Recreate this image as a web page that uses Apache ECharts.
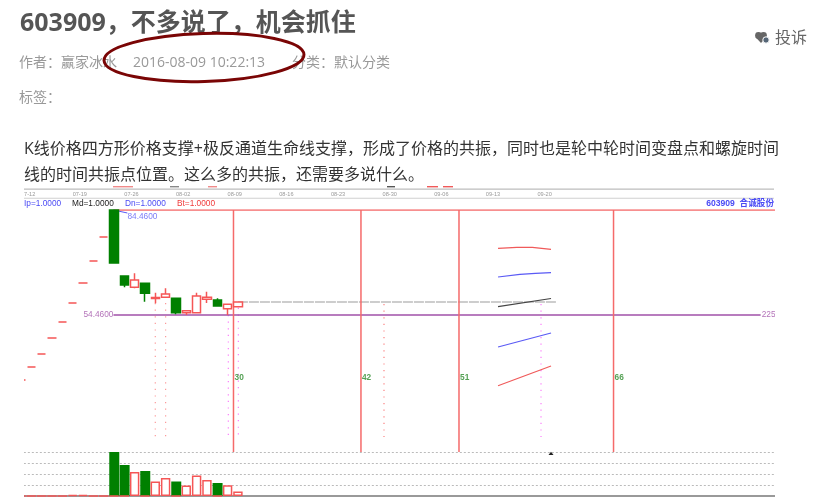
<!DOCTYPE html>
<html><head><meta charset="utf-8">
<style>html,body{margin:0;padding:0;background:#fff}#c{width:815px;height:501px}</style>
<script src="https://cdn.jsdelivr.net/npm/echarts@6/dist/echarts.min.js"></script>
</head><body><div id="c"></div>
<script>
const dates=['07-12','07-13','07-14','07-15','07-18','07-19','07-20','07-21','07-22','07-25','07-26','07-27','07-28','07-29','08-01','08-02','08-03','08-04','08-05','08-08','08-09','08-10','08-11','08-12','08-15','08-16','08-17','08-18','08-19','08-22','08-23','08-24','08-25','08-26','08-29','08-30','08-31','09-01','09-02','09-05','09-06','09-07','09-08','09-09','09-12','09-13','09-14','09-15','09-16','09-19','09-20','09-21','09-22','09-23','09-26','09-27','09-28','09-29','09-30','10-03','10-04','10-05','10-06','10-07','10-10','10-11','10-12','10-13','10-14','10-17','10-18','10-19','10-20','10-21'];
const opens =[35.89,39.60,43.32,47.89,52.46,57.89,63.60,69.89,76.75,84.46,65.60,62.37,63.52,59.17,59.52,59.23,55.12,55.12,58.95,58.75,56.26,56.83];
const closes=[35.89,39.60,43.32,47.89,52.46,57.89,63.60,69.89,76.75,69.30,63.03,64.46,60.66,59.46,60.46,55.12,55.69,59.89,59.52,57.03,57.52,58.17];
const lows  =[35.89,39.60,43.32,47.89,52.46,57.89,63.60,69.89,76.75,69.30,62.37,62.09,58.26,57.80,59.32,54.66,54.46,55.03,57.89,57.03,54.46,56.83];
const highs =[35.89,39.60,43.32,47.89,52.46,57.89,63.60,69.89,76.75,84.46,65.60,66.37,63.52,60.83,62.09,59.32,55.89,60.83,61.12,59.23,57.52,58.17];
const volUp  =[0,0,0,0,0,1,1,0,0,0,0,24,0,14.5,18,0,10.5,20.5,16,0,10.7,4.6];
const volDown=[0,0,0,0,0,0,0,0,0,44,31,0,25,0,0,14.5,0,0,0,13,0,0];
const fanLines=[
 {color:'#f05a5a',pts:[[46.18,73.52],[48,73.77],[49.5,73.8],[51.31,73.23]]},
 {color:'#5a5af5',pts:[[46.18,65.32],[48.3,66.09],[49.8,66.37],[51.31,66.55]]},
 {color:'#444444',pts:[[46.18,56.83],[51.31,59.17]]},
 {color:'#5a5af5',pts:[[46.18,45.32],[51.31,49.32]]},
 {color:'#f05a5a',pts:[[46.18,34.26],[51.31,39.89]]}
];
const cycleX=[20.57,32.91,42.4,57.36];
const cycleLabels=['30','42','51','66'];
const topPrice=84.46, basePrice=54.46, flatPrice=58.17;
const dottedLines=[
 {x:13,from:57.89,to:19.03,color:'#fb9a9a'},
 {x:14,from:57.89,to:19.03,color:'#fb9a9a'},
 {x:20.07,from:54.46,to:19.6,color:'#fb7cfb'},
 {x:21.04,from:56.5,to:19.6,color:'#fb7cfb'},
 {x:35.14,from:57.6,to:19.6,color:'#fb8080'},
 {x:50.34,from:57.6,to:19.6,color:'#fb7cfb'}
];
const F='"Open Sans","Noto Sans CJK SC",sans-serif';
const S='"Liberation Sans",sans-serif';
const line=(data,color,width,type)=>({type:'line',xAxisIndex:1,yAxisIndex:0,data,symbol:'none',silent:true,animation:false,
  lineStyle:{color,width,type:type||'solid'},z:type?2:3});
const labelAt=(x,y,text,color,pos,weight)=>({type:'scatter',xAxisIndex:1,yAxisIndex:0,symbolSize:0,silent:true,animation:false,data:[[x,y]],
  label:{show:true,formatter:text,position:pos||'right',distance:0,color,fontFamily:S,fontSize:8.3,fontWeight:weight||'normal'}});
const txt=(x,y,text,size,color,extra)=>({type:'text',silent:true,z:50,style:Object.assign({x,y,text,fontSize:size,fill:color,fontFamily:F,verticalAlign:'middle'},extra||{})});
const rect=(x,y,w,h,c,z)=>({type:'rect',silent:true,z:z||50,shape:{x,y,width:w,height:h},style:{fill:c}});
const circ=(cx,cy,r,c,extra)=>({type:'circle',silent:true,z:50,shape:{cx,cy,r},style:Object.assign({fill:c},extra||{})});
const chart=echarts.init(document.getElementById('c'),null,{renderer:'canvas'});
chart.setOption({
 backgroundColor:'#fff',animation:false,
 grid:[{left:15.835,top:210,width:764.42,height:242},{left:15.835,top:452,width:764.42,height:44}],
 xAxis:[
  {type:'category',gridIndex:0,data:dates,position:'top',axisLine:{show:false},axisTick:{show:false},splitLine:{show:false},
   axisLabel:{align:'left',margin:13,fontSize:5.6,color:'#999999',fontFamily:S,hideOverlap:false,interval:(i)=>i%5===0&&i<=50}},
  {type:'value',gridIndex:0,min:-0.5,max:73.5,show:false},
  {type:'category',gridIndex:1,data:dates,axisLine:{show:true,lineStyle:{color:'#999',width:2}},axisTick:{show:false},axisLabel:{show:false}}
 ],
 yAxis:[
  {type:'value',gridIndex:0,min:15.32,max:84.46,show:false},
  {type:'value',gridIndex:1,min:0,max:44,interval:11,axisLine:{show:false},axisTick:{show:false},axisLabel:{show:false},
   splitLine:{show:true,lineStyle:{color:'#bbb',type:[2,2],width:1}}}
 ],
 series:[
  line([[8.95,topPrice],[73.5,topPrice]],'#f56a6a',1.5),
  line([[8.95,basePrice],[71.6,basePrice]],'#a050a8',1.5),
  line([[21,flatPrice],[51.8,flatPrice]],'#bdbdbd',1.5,[10,1]),
  line([[8.95,topPrice],[10.3,83.6]],'#5a5af5',1),
  ...cycleX.map(x=>line([[x,topPrice],[x,15.32]],'#f56a6a',1.5)),
  ...dottedLines.map(d=>line([[d.x,d.from],[d.x,d.to]],d.color,1.2,[1.2,5.4])),
  ...fanLines.map(f=>line(f.pts,f.color,1.2)),
  {type:'candlestick',xAxisIndex:0,yAxisIndex:0,barWidth:9,z:5,animation:false,silent:true,
   data:opens.map((o,i)=>[o,closes[i],lows[i],highs[i]]),
   itemStyle:{color:'#fff',color0:'#008000',borderColor:'#f55656',borderColor0:'#008000',borderColorDoji:'#f55656',borderWidth:1.5}},
  labelAt(10.3,82.5,'84.4600','#5a5af5'),
  labelAt(8.95,54.66,'54.4600','#a050a8','left'),
  labelAt(71.7,54.66,'225','#a050a8'),
  ...cycleX.map((x,i)=>labelAt(x+0.1,36.46,cycleLabels[i],'#2a8a2a','right','bold')),
  {type:'bar',xAxisIndex:2,yAxisIndex:1,data:volDown,barWidth:10,barGap:'-100%',silent:true,animation:false,itemStyle:{color:'#008000'}},
  {type:'bar',xAxisIndex:2,yAxisIndex:1,data:volUp,barWidth:9.4,barGap:'-100%',silent:true,animation:false,
   itemStyle:{color:'#fff',borderColor:'#f55656',borderWidth:1.5}}
 ],
 graphic:[
  rect(0,190,24,311,'#fff',40),
  rect(775,190,40,311,'#fff',40),
  txt(20,24,'603909，不多说了，机会抓住',25,'#555555',{fontWeight:'bold'}),
  txt(19,63,'作者：赢家冰水',14,'#999999'),
  txt(133,63,'2016-08-09 10:22:13',14,'#999999'),
  txt(292,63,'分类：默认分类',14,'#999999'),
  txt(19,98,'标签：',14,'#999999'),
  {type:'ellipse',silent:true,z:51,rotation:0.03,originX:204,originY:57.5,shape:{cx:204,cy:57.5,rx:100,ry:24},style:{fill:'none',stroke:'#7a0505',lineWidth:3}},
  circ(758.5,35.5,3.4,'#666666'),
  circ(763.5,35.5,3.4,'#666666'),
  {type:'polygon',silent:true,z:50,shape:{points:[[755.4,37],[766.6,37],[761,43]]},style:{fill:'#666666'}},
  circ(766,40,3.2,'#556677',{stroke:'#fff',lineWidth:1}),
  txt(775,38,'投诉',16,'#666666'),
  txt(24,149.5,'K线价格四方形价格支撑+极反通道生命线支撑，形成了价格的共振，同时也是轮中轮时间变盘点和螺旋时间',16,'#333333'),
  txt(24,175.5,'线的时间共振点位置。这么多的共振，还需要多说什么。',16,'#333333'),
  rect(24,188.5,750,1.2,'#bdbdbd',45),
  rect(24,197.8,750,1,'#d0d0d0',45),
  rect(113,186,20,1.4,'#f08a8a',45),
  rect(208,186,9,1.4,'#f08a8a',45),
  rect(427,186,11,1.4,'#f05a5a',45),
  rect(443,186,10,1.4,'#f05a5a',45),
  rect(170,186,9,1.4,'#888',45),
  rect(387,186,8,1.4,'#555',45),
  txt(24,204,'Ip=1.0000',8.3,'#4a4af5',{fontFamily:S}),
  txt(72,204,'Md=1.0000',8.3,'#222222',{fontFamily:S}),
  txt(125,204,'Dn=1.0000',8.3,'#4a4af5',{fontFamily:S}),
  txt(177,204,'Bt=1.0000',8.3,'#f03a3a',{fontFamily:S}),
  txt(774,204,'603909  合诚股份',8.6,'#4a4af5',{fontFamily:S+',"Noto Sans CJK SC"',align:'right',fontWeight:'bold'}),
  {type:'polygon',silent:true,z:50,shape:{points:[[548.5,455],[553.5,455],[551,451.8]]},style:{fill:'#222'}}
 ]
});
</script></body></html>
